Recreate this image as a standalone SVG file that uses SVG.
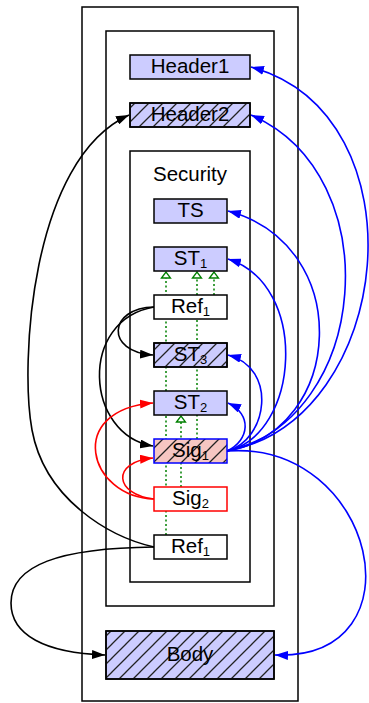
<svg xmlns="http://www.w3.org/2000/svg" width="369" height="703" viewBox="0 0 369 703">
<style>
.box{fill:none;stroke:#000;stroke-width:1.5}
.n{stroke:#000;stroke-width:1.5}
.blue{fill:#ccccff}
.t{font-family:"Liberation Sans",Arial,sans-serif;font-size:20.5px;fill:#000;text-anchor:middle}
.sub{font-size:13px}
.c{fill:none;stroke-width:1.6}
.k{stroke:#000}
.b{stroke:#0000ff}
.r{stroke:#ff0000}
.g{fill:none;stroke:#008000;stroke-width:1.5;stroke-dasharray:2,2.5}
</style>
<defs>
<pattern id="hatch" patternUnits="userSpaceOnUse" width="14" height="14">
<path d="M-3,17 L17,-3 M-3,3 L3,-3 M11,17 L17,11" stroke="#222" stroke-width="1.3"/>
</pattern>
<marker id="ak" viewBox="0 0 13 9" refX="13" refY="4.5" markerWidth="13" markerHeight="9" markerUnits="userSpaceOnUse" orient="auto"><path d="M0,0 L13,4.5 L0,9 z" fill="#000"/></marker>
<marker id="abl" viewBox="0 0 13 9" refX="13" refY="4.5" markerWidth="13" markerHeight="9" markerUnits="userSpaceOnUse" orient="auto"><path d="M0,0 L13,4.5 L0,9 z" fill="#0000ff"/></marker>
<marker id="ar" viewBox="0 0 13 9" refX="13" refY="4.5" markerWidth="13" markerHeight="9" markerUnits="userSpaceOnUse" orient="auto"><path d="M0,0 L13,4.5 L0,9 z" fill="#ff0000"/></marker>
<marker id="ag" viewBox="-1 -6 8 12" refX="6" refY="0" markerWidth="8" markerHeight="12" markerUnits="userSpaceOnUse" orient="auto"><path d="M0,-4.5 L6,0 L0,4.5 z" fill="#fff" stroke="#008000" stroke-width="1.3"/></marker>
</defs>

<g id="containers">
<rect class="box" x="82" y="7" width="216" height="694"/>
<rect class="box" x="106" y="31" width="168" height="575"/>
<rect class="box" x="130" y="151" width="120" height="431"/>
<text class="t" x="190" y="181">Security</text>
</g>

<g id="connectors">
<path class="g" d="M166,535 L166,272" marker-end="url(#ag)"/>
<path class="g" d="M197,439 L197,272" marker-end="url(#ag)"/>
<path class="g" d="M214,295 L214,272" marker-end="url(#ag)"/>
<path class="g" d="M181,487 L181,416" marker-end="url(#ag)"/>

<path class="c b" d="M227,451 C395,420 425,115 251,67" marker-end="url(#abl)"/>
<path class="c b" d="M227,451 C370,420 390,175 251,115" marker-end="url(#abl)"/>
<path class="c b" d="M227,451 C345,430 355,245 228,211" marker-end="url(#abl)"/>
<path class="c b" d="M227,451 C300,435 310,285 228,259" marker-end="url(#abl)"/>
<path class="c b" d="M227,451 C268,440 278,368 228,355" marker-end="url(#abl)"/>
<path class="c b" d="M227,451 C250,440 252,414 228,403" marker-end="url(#abl)"/>
<path class="c b" d="M227,451 C375,440 425,660 275,655" marker-end="url(#abl)"/>

<path class="c k" d="M154,307 C108,308 105,352 153,355" marker-end="url(#ak)"/>
<path class="c k" d="M154,307 C78,320 85,435 153,446" marker-end="url(#ak)"/>
<path class="c k" d="M154,547 C110,537 45,500 32,430 C20,365 30,160 129,115" marker-end="url(#ak)"/>
<path class="c k" d="M154,547 C60,548 11,565 11,603 C11,635 45,653 105,655" marker-end="url(#ak)"/>

<path class="c r" d="M154,499 C88,497 65,410 153,403" marker-end="url(#ar)"/>
<path class="c r" d="M154,499 C115,495 110,462 153,458" marker-end="url(#ar)"/>
</g>

<g id="header1">
<rect class="n blue" x="130" y="55" width="120" height="24"/>
<text class="t" x="190" y="73">Header1</text>
</g>
<g id="header2">
<rect class="n blue" x="130" y="103" width="120" height="24"/>
<rect x="130" y="103" width="120" height="24" fill="url(#hatch)"/>
<rect class="box" x="130" y="103" width="120" height="24"/>
<text class="t" x="190" y="121">Header2</text>
</g>
<g id="ts">
<rect class="n blue" x="154" y="199" width="73" height="24"/>
<text class="t" x="190.5" y="217">TS</text>
</g>
<g id="st1">
<rect class="n blue" x="154" y="247" width="73" height="24"/>
<text class="t" x="190.5" y="265">ST<tspan class="sub" dy="3">1</tspan></text>
</g>
<g id="ref1a">
<rect class="n" fill="#fff" x="154" y="295" width="73" height="24"/>
<text class="t" x="190.5" y="313">Ref<tspan class="sub" dy="3">1</tspan></text>
</g>
<g id="st3">
<rect class="n blue" x="154" y="343" width="73" height="24"/>
<rect x="154" y="343" width="73" height="24" fill="url(#hatch)"/>
<rect class="box" x="154" y="343" width="73" height="24"/>
<text class="t" x="190.5" y="361">ST<tspan class="sub" dy="3">3</tspan></text>
</g>
<g id="st2">
<rect class="n blue" x="154" y="391" width="73" height="24"/>
<text class="t" x="190.5" y="409">ST<tspan class="sub" dy="3">2</tspan></text>
</g>
<g id="sig1">
<rect x="154" y="439" width="73" height="24" fill="#f6c6c2"/>
<rect x="154" y="439" width="73" height="24" fill="url(#hatch)"/>
<rect x="154" y="439" width="73" height="24" fill="none" stroke="#0000ff" stroke-width="1.5"/>
<text class="t" x="190.5" y="457">Sig<tspan class="sub" dy="3">1</tspan></text>
</g>
<g id="sig2">
<rect x="154" y="487" width="73" height="24" fill="#fff" stroke="#ff0000" stroke-width="1.5"/>
<text class="t" x="190.5" y="505">Sig<tspan class="sub" dy="3">2</tspan></text>
</g>
<g id="ref1b">
<rect class="n" fill="#fff" x="154" y="535" width="73" height="24"/>
<text class="t" x="190.5" y="553">Ref<tspan class="sub" dy="3">1</tspan></text>
</g>
<g id="body">
<rect class="n blue" x="106" y="631" width="168" height="48"/>
<rect x="106" y="631" width="168" height="48" fill="url(#hatch)"/>
<rect class="box" x="106" y="631" width="168" height="48"/>
<text class="t" x="190" y="661">Body</text>
</g>
</svg>
